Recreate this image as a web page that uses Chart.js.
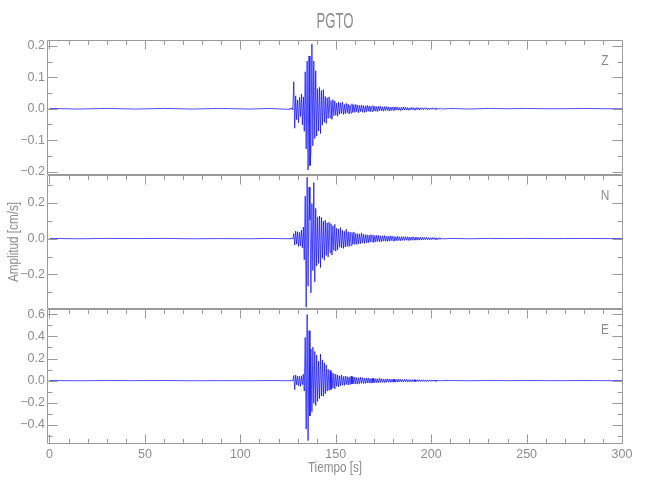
<!DOCTYPE html>
<html lang="es">
<head>
<meta charset="UTF-8">
<title>PGTO</title>
<script src="https://cdn.jsdelivr.net/npm/chart.js"></script>
<style>
  html, body { margin: 0; padding: 0; background: #fff; overflow: hidden; }
  #wrap { position: relative; width: 650px; height: 500px; }
</style>
</head>
<body>
<div id="wrap"><canvas id="sismo"></canvas></div>
<script>
// strong-motion part of the record is sampled every dt seconds from t0
const t0 = 126;
const dt = 0.5;

// quiet parts before and after the event (s)
const quietBefore = [0, 15, 30, 45, 60, 75, 90, 105, 115, 125.5];
const quietAfter = [210, 220, 230, 240, 250, 260, 270, 280, 290, 300];

// Z component [cm/s]
const zBefore = [0.001, -0.001, 0.001, -0.001, 0.001, -0.001, 0.001, -0.001, 0.001, -0.002];
const zFuerte = [
  0.002, -0.001, 0.003, -0.004, 0.086, -0.062, 0.041, -0.035, 0.028, -0.044,
  0.036, -0.025, 0.047, -0.051, 0.038, -0.072, 0.118, -0.128, 0.152, -0.195,
  0.168, -0.181, -0.137, 0.206, -0.118, 0.152, -0.095, 0.121, -0.087, 0.064,
  -0.071, 0.068, -0.079, 0.058, -0.052, 0.061, -0.043, 0.039, -0.047, 0.035,
  -0.031, 0.038, -0.029, 0.026, -0.034, 0.029, -0.022, 0.025, -0.021, 0.018,
  -0.024, 0.021, -0.017, 0.019, -0.015, 0.022, -0.018, 0.014, -0.016, 0.017,
  -0.013, 0.015, -0.017, 0.012, -0.014, 0.016, -0.011, 0.013, -0.012, 0.014,
  -0.010, 0.012, -0.013, 0.011, -0.009, 0.012, -0.011, 0.010, -0.012, 0.009,
  -0.010, 0.011, -0.008, 0.009, -0.010, 0.008, -0.009, 0.010, -0.007, 0.008,
  -0.008, 0.007, -0.009, 0.008, -0.006, 0.008, -0.007, 0.006, -0.008, 0.007,
  -0.006, 0.007, -0.005, 0.006, -0.007, 0.005, -0.006, 0.006, -0.005, 0.006,
  -0.005, 0.006, -0.004, 0.005, -0.005, 0.004, -0.006, 0.005, -0.004, 0.005,
  -0.004, 0.005, -0.004, 0.004, -0.005, 0.003, -0.004, 0.004, -0.003, 0.004,
  -0.004, 0.003, -0.003, 0.004, -0.003, 0.003, -0.004, 0.003, -0.002, 0.003,
  -0.003, 0.003, -0.002, 0.003, -0.003, 0.002, -0.003, 0.002, -0.002, 0.003,
  -0.002, 0.002, -0.002, 0.003, -0.002, 0.002, -0.002, 0.002, -0.001, 0.002, -0.001
];
const zAfter = [0.001, -0.001, 0.001, 0.0, 0.001, 0.0, 0.0, 0.001, 0.0, 0.0];

// N component [cm/s]
const nBefore = [0.001, -0.001, 0.001, 0.0, 0.001, -0.001, 0.0, -0.001, 0.001, -0.001];
const nFuerte = [
  0.002, -0.002, 0.003, -0.003, 0.028, -0.036, 0.042, -0.031, 0.038, -0.044,
  0.035, -0.041, 0.047, -0.052, 0.064, -0.118, 0.236, -0.382, 0.342, -0.265,
  0.287, 0.102, -0.302, 0.196, -0.178, 0.312, -0.241, 0.168, -0.152, 0.121,
  -0.138, 0.126, -0.161, 0.118, -0.109, 0.097, -0.121, 0.102, -0.094, 0.088,
  -0.102, 0.091, -0.078, 0.083, -0.092, 0.071, -0.066, 0.079, -0.071, 0.058,
  -0.062, 0.054, -0.048, 0.061, -0.052, 0.046, -0.055, 0.041, -0.047, 0.052,
  -0.043, 0.038, -0.045, 0.036, -0.039, 0.034, -0.031, 0.037, -0.033, 0.029,
  -0.032, 0.027, -0.030, 0.026, -0.028, 0.031, -0.025, 0.024, -0.027, 0.022,
  -0.023, 0.021, -0.024, 0.019, -0.020, 0.022, -0.018, 0.020, -0.021, 0.017,
  -0.018, 0.019, -0.016, 0.018, -0.017, 0.015, -0.018, 0.016, -0.014, 0.017,
  -0.015, 0.014, -0.016, 0.013, -0.014, 0.015, -0.012, 0.014, -0.013, 0.012,
  -0.013, 0.011, -0.012, 0.013, -0.011, 0.010, -0.012, 0.011, -0.010, 0.011,
  -0.010, 0.011, -0.009, 0.010, -0.011, 0.009, -0.010, 0.008, -0.009, 0.010,
  -0.008, 0.009, -0.008, 0.008, -0.009, 0.007, -0.008, 0.007, -0.007, 0.008,
  -0.007, 0.006, -0.007, 0.007, -0.006, 0.006, -0.007, 0.005, -0.006, 0.006,
  -0.005, 0.006, -0.005, 0.005, -0.006, 0.004, -0.005, 0.005, -0.004, 0.004, -0.002
];
const nAfter = [0.001, -0.001, 0.001, 0.0, 0.001, 0.0, 0.0, 0.001, 0.0, 0.0];

// E component [cm/s]
const eBefore = [0.001, -0.001, 0.001, 0.0, 0.001, -0.001, 0.0, -0.001, 0.001, -0.001];
const eFuerte = [
  0.003, -0.002, 0.002, -0.004, 0.046, -0.082, 0.052, -0.038, 0.041, -0.047,
  0.039, -0.052, 0.044, -0.036, 0.058, -0.094, 0.391, -0.438, 0.598, -0.542,
  0.452, -0.318, 0.286, -0.281, 0.302, -0.205, 0.264, -0.226, 0.231, -0.188,
  0.176, -0.162, 0.241, -0.139, 0.188, -0.142, 0.163, -0.118, 0.142, -0.096,
  0.104, -0.087, 0.093, -0.081, 0.072, -0.068, 0.064, -0.075, 0.058, -0.052,
  0.049, -0.056, 0.044, -0.047, 0.051, -0.041, 0.038, -0.044, 0.042, -0.035,
  0.037, -0.039, 0.033, -0.036, 0.041, -0.031, 0.034, -0.029, 0.032, -0.030,
  0.028, -0.032, 0.026, -0.027, 0.031, -0.024, 0.027, -0.025, 0.023, -0.026,
  0.024, -0.021, 0.025, -0.022, 0.019, -0.023, 0.021, -0.018, 0.022, -0.019,
  0.018, -0.020, 0.017, -0.019, 0.021, -0.016, 0.018, -0.017, 0.015, -0.018,
  0.016, -0.015, 0.017, -0.014, 0.015, -0.016, 0.013, -0.015, 0.014, -0.013,
  0.013, -0.014, 0.012, -0.013, 0.014, -0.011, 0.012, -0.012, 0.011, -0.012,
  0.011, -0.010, 0.012, -0.011, 0.010, -0.011, 0.009, -0.010, 0.010, -0.009,
  0.009, -0.010, 0.008, -0.009, 0.009, -0.008, 0.009, -0.008, 0.007, -0.008,
  0.008, -0.007, 0.007, -0.008, 0.006, -0.007, 0.007, -0.006, 0.006, -0.007,
  0.006, -0.005, 0.006, -0.006, 0.005, -0.005, 0.006, -0.004, 0.005, -0.005, 0.002
];
const eAfter = [0.001, -0.001, 0.001, 0.0, 0.001, 0.0, 0.0, 0.001, 0.0, 0.0];

// axes
const xTicks = [0, 50, 100, 150, 200, 250, 300];
const xMinorStep = 10;
const xRange = [-1.3, 300.5];
const zTicks = [-0.2, -0.1, 0.0, 0.1, 0.2];
const zMinor = [-0.15, -0.05, 0.05, 0.15];
const zRange = [-0.21, 0.219];
const nTicks = [-0.2, 0.0, 0.2];
const nMinor = [-0.3, -0.1, 0.1, 0.3];
const nRange = [-0.394, 0.356];
const eTicks = [-0.4, -0.2, 0.0, 0.2, 0.4, 0.6];
const eMinor = [-0.5, -0.3, -0.1, 0.1, 0.3, 0.5];
const eRange = [-0.573, 0.645];

const grey = '#8c8c8c';
const frameGrey = '#9a9a9a';
const traceBlue = '#0000ff';
const tickFont = { family: '"Liberation Sans Narrow", "Liberation Sans", sans-serif', size: 12.5 };
const textFamily = '"Liberation Sans", Arial, sans-serif';

function serie(before, fuerte, after) {
  const pts = [];
  quietBefore.forEach((t, i) => pts.push({ x: t, y: before[i] }));
  fuerte.forEach((v, i) => pts.push({ x: t0 + i * dt, y: v }));
  quietAfter.forEach((t, i) => pts.push({ x: t, y: after[i] }));
  return pts;
}

function fmt(v) {
  return (v < 0 ? '\u2212' : '') + Math.abs(v).toFixed(1);
}

const panels = [
  { id: 'yZ', name: 'Z', ticks: zTicks, minor: zMinor },
  { id: 'yN', name: 'N', ticks: nTicks, minor: nMinor },
  { id: 'yE', name: 'E', ticks: eTicks, minor: eMinor }
];

function yScale(range, ticks) {
  return {
    type: 'linear',
    position: 'left',
    stack: 'paneles',
    stackWeight: 1,
    min: range[0],
    max: range[1],
    grid: { display: false, drawTicks: false },
    border: { display: false },
    ticks: { color: grey, font: tickFont, padding: 2, autoSkip: false, callback: fmt },
    afterBuildTicks: s => { s.ticks = ticks.map(v => ({ value: v })); },
    afterFit: s => { s.width = 47; }
  };
}

function squeezed(ctx, txt, x, y, size, sx, rot) {
  ctx.save();
  ctx.translate(x, y);
  if (rot) ctx.rotate(rot);
  ctx.scale(sx, 1);
  ctx.font = size + 'px ' + textFamily;
  ctx.fillStyle = grey;
  ctx.textAlign = 'center';
  ctx.textBaseline = 'middle';
  ctx.fillText(txt, 0, 0);
  ctx.restore();
}

// frames with inward ticks, like the IDL plot, plus the texts
const framePlugin = {
  id: 'frames',
  afterDatasetsDraw(chart) {
    const ctx = chart.ctx;
    const xs = chart.scales.x;
    const left = Math.round(chart.chartArea.left) + 0.5;
    const right = Math.round(chart.chartArea.right) - 0.5;
    ctx.save();
    ctx.strokeStyle = frameGrey;
    ctx.lineWidth = 1;
    panels.forEach((p, i) => {
      const ys = chart.scales[p.id];
      const top = Math.round(ys.top) + 0.5;
      const bottom = Math.round(ys.bottom) - 0.5;
      ctx.beginPath();
      ctx.rect(left, top, right - left, bottom - top);
      // time ticks on top (and on the bottom of the last panel)
      for (let t = 0; t <= 300; t += xMinorStep) {
        const px = Math.round(xs.getPixelForValue(t)) + 0.5;
        const len = xTicks.includes(t) ? 9 : 4.5;
        ctx.moveTo(px, top); ctx.lineTo(px, top + len);
        if (i === panels.length - 1) { ctx.moveTo(px, bottom); ctx.lineTo(px, bottom - len); }
      }
      // amplitude ticks on both sides
      p.ticks.forEach(v => {
        const py = Math.round(ys.getPixelForValue(v)) + 0.5;
        ctx.moveTo(left, py); ctx.lineTo(left + 10, py);
        ctx.moveTo(right, py); ctx.lineTo(right - 10, py);
      });
      p.minor.forEach(v => {
        const py = Math.round(ys.getPixelForValue(v)) + 0.5;
        ctx.moveTo(left, py); ctx.lineTo(left + 5, py);
        ctx.moveTo(right, py); ctx.lineTo(right - 5, py);
      });
      ctx.stroke();
      squeezed(ctx, p.name, chart.chartArea.right - 18, ys.top + 21, 14, 0.85);
    });
    ctx.restore();
  },
  afterDraw(chart) {
    const ctx = chart.ctx;
    const a = chart.chartArea;
    const cx = (a.left + a.right) / 2;
    squeezed(ctx, 'PGTO', cx, 22, 22, 0.6);
    squeezed(ctx, 'Tiempo [s]', cx, 468, 15, 0.78);
    squeezed(ctx, 'Amplitud [cm/s]', 14, (a.top + a.bottom) / 2, 15, 0.78, -Math.PI / 2);
  }
};

const lineStyle = { borderColor: traceBlue, borderWidth: 0.7, pointRadius: 0, tension: 0, fill: false };

new Chart(document.getElementById('sismo').getContext('2d'), {
  type: 'line',
  data: {
    datasets: [
      { ...lineStyle, label: 'Z', yAxisID: 'yZ', data: serie(zBefore, zFuerte, zAfter) },
      { ...lineStyle, label: 'N', yAxisID: 'yN', data: serie(nBefore, nFuerte, nAfter) },
      { ...lineStyle, label: 'E', yAxisID: 'yE', data: serie(eBefore, eFuerte, eAfter) }
    ]
  },
  options: {
    responsive: true,
    maintainAspectRatio: false,
    animation: false,
    layout: { padding: { top: 40, right: 27, bottom: 0, left: 0 } },
    plugins: { legend: { display: false }, tooltip: { enabled: false } },
    scales: {
      x: {
        type: 'linear',
        position: 'bottom',
        min: xRange[0],
        max: xRange[1],
        grid: { display: false, drawTicks: false },
        border: { display: false },
        ticks: { color: grey, font: tickFont, padding: 3, autoSkip: false, maxRotation: 0 },
        afterBuildTicks: s => { s.ticks = xTicks.map(v => ({ value: v })); },
        afterFit: s => { s.height = 56; }
      },
      yE: yScale(eRange, eTicks),
      yN: yScale(nRange, nTicks),
      yZ: yScale(zRange, zTicks)
    }
  },
  plugins: [framePlugin]
});
</script>
</body>
</html>
